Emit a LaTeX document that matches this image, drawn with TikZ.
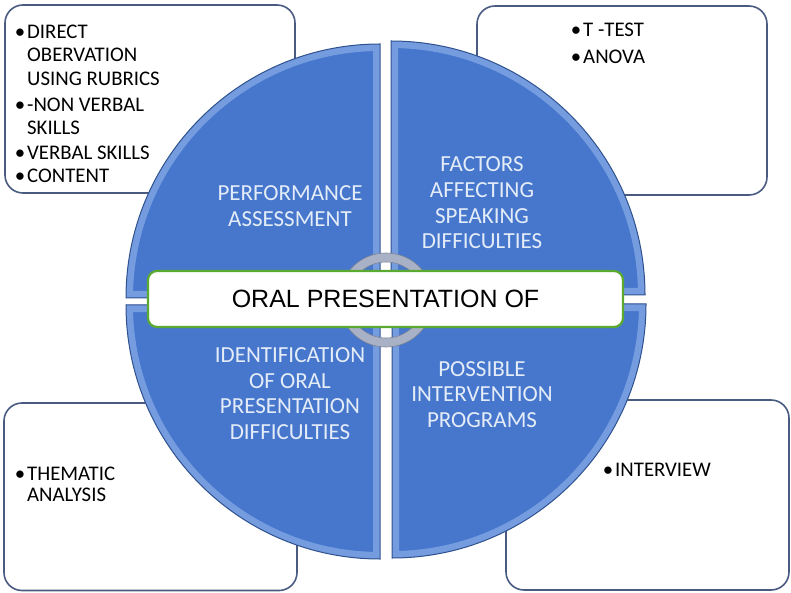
\documentclass[tikz,border=0pt]{standalone}
\usepackage{fontspec}
\setmainfont{Carlito}
\newfontfamily\bannerfont{Liberation Sans}
\usetikzlibrary{calc}

\definecolor{quadblue}{HTML}{4677CC}
\definecolor{quadedge}{HTML}{2F528F}
\definecolor{bevelblue}{HTML}{9DBCF0}
\definecolor{boxedge}{HTML}{4A5B82}
\definecolor{labeltext}{HTML}{E4ECF8}
\definecolor{ringgray}{HTML}{A9B1C6}
\definecolor{bannergreen}{HTML}{5AAA32}

\tikzset{
  quadline/.style={draw=quadedge, line width=1pt},
  bevel/.style={draw=bevelblue, line width=14pt, opacity=.55},
  itembox/.style={draw=boxedge, line width=1.6pt, fill=white, rounded corners=18pt},
  items/.style={anchor=north west, inner sep=0pt, align=left, font=\fontsize{20.8}{23.3}\selectfont},
  quadlabel/.style={inner sep=0pt, align=center, text=labeltext, font=\fontsize{23}{25.7}\selectfont},
  ring/.style={draw=ringgray, line width=9pt},
  banner/.style={draw=bannergreen, line width=2.2pt, fill=white, rounded corners=9pt,
    minimum width=475pt, minimum height=56pt, font=\bannerfont\fontsize{25}{30}\selectfont}
}

\def\bul{\llap{\textbullet\kern2pt}}
\def\quadrant(#1)(#2:#3){%
  \begin{scope}
    \clip (#1) -- ++(#2:254) arc (#2:#3:254) -- cycle;
    \fill[quadblue] (#1) -- ++(#2:254) arc (#2:#3:254) -- cycle;
    \draw[bevel] (#1) -- ++(#2:254) arc (#2:#3:254) -- cycle;
  \end{scope}
  \draw[quadline] (#1) -- ++(#2:254) arc (#2:#3:254) -- cycle;}

\begin{document}
\begin{tikzpicture}[x=1pt, y=1pt]
  %%%%% START %%%%%
  \useasboundingbox (0, 0) rectangle (791, 592);

  % boxes behind the circle
  \draw[itembox] (5, 587) rectangle (295, 399);
  \draw[itembox] (477, 586) rectangle (767, 397);
  \draw[itembox] (4, 189) rectangle (297, 1.5);
  \draw[itembox] (506, 192) rectangle (789, 2);

  \node[items] (assess) at (27, 567) {\bul DIRECT\\ OBERVATION\\ USING RUBRICS\\[2.5pt]
    \bul -NON VERBAL\\ SKILLS\\[2pt] \bul VERBAL SKILLS\\[0pt] \bul CONTENT};
  \node[items] (tests) at (583, 568.7) {\bul T -TEST\\[3.4pt] \bul ANOVA};
  \node[items] (thematic) at (27, 125.3) {\bul THEMATIC\\[-2pt] ANALYSIS};
  \node[items] (interview) at (615, 128.7) {\bul INTERVIEW};

  % four quarters
  \quadrant(380, 294)(180:90)
  \quadrant(391, 297)(90:0)
  \quadrant(380, 287)(270:180)
  \quadrant(392, 288)(0:-90)

  \node[quadlabel] (perf) at (290, 386) {PERFORMANCE\\ ASSESSMENT};
  \node[quadlabel] (factors) at (482, 389) {FACTORS\\ AFFECTING\\ SPEAKING\\ DIFFICULTIES};
  \node[quadlabel] (ident) at (290, 198.5) {IDENTIFICATION\\ OF ORAL\\ PRESENTATION\\ DIFFICULTIES};
  \node[quadlabel] (interv) at (482, 197.5) {POSSIBLE\\ INTERVENTION\\ PROGRAMS};

  % hub ring and title
  \draw[ring] (386, 292) circle (42.5);
  \draw[ringgray!75!black, line width=.6pt] (386, 292) circle (47) (386, 292) circle (38);

  \node[banner] (title) at (385.5, 293) {ORAL PRESENTATION OF};

  %%%%% END %%%%%
\end{tikzpicture}
\end{document}
